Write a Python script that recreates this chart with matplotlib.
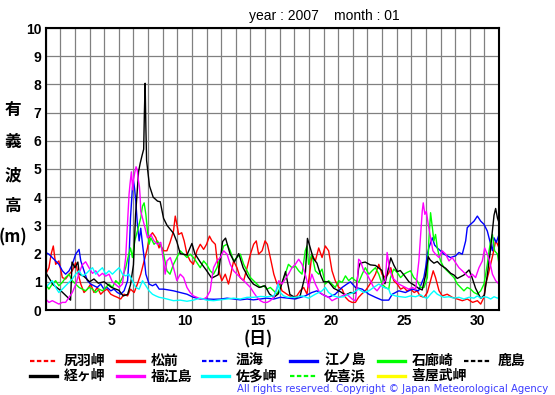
import matplotlib
matplotlib.use("Agg")
import matplotlib.pyplot as plt
from matplotlib.lines import Line2D

plt.rcParams['font.family'] = ['Liberation Sans', 'Noto Sans CJK JP', 'DejaVu Sans']

# --- data (day of month from start, wave height m) ---
kei_d = [0, 0.5, 1.0, 1.5, 1.7, 1.8, 2.0, 2.2, 2.3, 2.6, 3.0, 3.3, 3.6, 4.0, 4.5, 5.0, 5.3, 5.6, 5.8, 6.0,
         6.15, 6.35, 6.46, 6.6, 6.7, 6.75, 6.8, 6.85, 6.9, 7.0, 7.1, 7.35, 7.65, 7.83, 8.06, 8.3, 8.74, 8.97,
         9.2, 9.66, 10.0, 10.2, 10.57, 11.0, 11.35, 11.8, 12.1, 12.3, 12.6, 12.9, 13.2, 13.5, 13.85, 14.2,
         14.6, 15.0, 15.3, 15.6, 15.9, 16.05, 16.4, 16.7, 17.1, 17.4, 17.75, 17.9, 18.1, 18.3, 18.55, 18.8,
         19.0, 19.35, 19.7, 20.15, 20.5, 20.85, 21.2, 21.4, 21.5, 21.85, 22.2, 22.55, 23.0, 23.2, 23.6, 23.8,
         24.04, 24.25, 24.5, 24.84, 25.2, 25.5, 25.75, 25.98, 26.16, 26.3, 26.55, 26.78, 27.0, 27.35, 27.7,
         27.92, 28.15, 28.6, 28.95, 29.1, 29.4, 29.75, 30.0, 30.2, 30.4, 30.66, 30.77, 30.9, 31.0]
kei_v = [1.33, 0.9, 0.7, 0.45, 0.35, 1.7, 1.5, 1.7, 1.27, 1.2, 1.0, 1.1, 0.95, 1.0, 0.8, 0.7, 0.5, 0.55, 0.9, 1.6,
         3.4, 4.9, 5.2, 5.5, 5.7, 7.0, 8.04, 6.5, 5.3, 4.84, 4.4, 4.0, 3.86, 3.84, 3.25, 3.0, 2.72, 2.42,
         2.0, 1.95, 2.36, 2.0, 1.7, 1.4, 1.13, 1.25, 2.43, 2.55, 2.0, 1.7, 2.0, 1.5, 1.16, 0.92,
         0.8, 0.86, 0.57, 0.45, 0.57, 0.77, 1.36, 0.55, 0.43, 0.5, 1.24, 2.54, 2.19, 1.83, 1.66, 1.24,
         1.0, 1.0, 0.77, 0.65, 0.53, 0.62, 0.6, 1.48, 1.66, 1.7, 1.6, 1.58, 1.4, 0.93, 1.85, 1.6,
         1.36, 1.4, 1.24, 1.0, 0.88, 0.77, 0.71, 1.24, 1.89, 1.77, 1.66, 1.72, 1.6, 1.48, 1.3,
         1.24, 1.12, 1.24, 1.42, 1.24, 0.77, 0.41, 0.53, 1.24, 2.06, 3.36, 3.6, 3.25, 3.1]

mat_d = [0, 0.22, 0.38, 0.52, 0.68, 0.9, 1.14, 1.36, 1.6, 1.82, 2.05, 2.17, 2.4, 2.62, 2.85, 3.08, 3.3, 3.53,
         3.76, 4.0, 4.2, 4.45, 4.67, 4.9, 5.13, 5.36, 5.6, 5.8, 6.05, 6.27, 6.5, 6.73, 6.96, 7.07, 7.3, 7.53,
         7.75, 7.83, 8.06, 8.29, 8.5, 8.74, 8.86, 8.97, 9.09, 9.3, 9.47, 9.66, 9.88, 10.1, 10.34, 10.57, 10.8,
         11.0, 11.2, 11.37, 11.6, 11.7, 11.9, 12.05, 12.28, 12.5, 12.66, 12.85, 13.08, 13.3, 13.54, 13.77,
         14.0, 14.22, 14.4, 14.56, 14.8, 15.0, 15.16, 15.36, 15.6, 15.82, 16.0, 16.16, 16.5, 16.84, 17.17,
         17.4, 17.64, 17.87, 18.1, 18.2, 18.44, 18.67, 18.9, 19.12, 19.35, 19.58, 19.8, 20.04, 20.27, 20.5,
         20.72, 20.95, 21.18, 21.4, 21.6, 21.86, 22.1, 22.32, 22.55, 22.78, 23.0, 23.23, 23.45, 23.6, 23.8,
         24.04, 24.27, 24.5, 24.7, 24.95, 25.2, 25.4, 25.6, 25.87, 26.1, 26.32, 26.5, 26.66, 26.9, 27.12,
         27.46, 27.8, 28.15, 28.49, 28.83, 29.2, 29.52, 29.75, 29.97, 30.09, 30.27, 30.43, 30.59, 30.77,
         30.9, 31.0]
mat_v = [1.27, 1.5, 2.0, 2.27, 1.62, 1.74, 1.15, 1.1, 1.27, 1.39, 1.68, 1.39, 0.92, 0.62, 0.74, 0.92, 0.62, 0.8,
         0.56, 0.68, 0.74, 0.56, 0.5, 0.45, 0.39, 0.56, 0.5, 0.74, 0.62, 0.92, 1.27, 1.74, 2.2, 2.56, 2.74, 2.56,
         2.2, 2.33, 2.1, 2.1, 2.39, 2.8, 3.33, 3.04, 2.68, 2.74, 2.45, 1.98, 1.74, 1.62, 2.1, 2.33, 2.15,
         2.33, 2.62, 2.45, 2.33, 1.86, 1.27, 1.04, 1.27, 0.92, 1.27, 1.74, 1.5, 1.15, 1.04, 1.5,
         1.98, 2.33, 2.45, 1.98, 2.1, 2.45, 2.33, 1.86, 1.27, 0.92, 0.92, 0.68, 0.56, 0.45, 0.5,
         0.68, 0.8, 0.56, 1.5, 1.98, 1.74, 2.2, 1.86, 2.27, 2.1, 1.39, 1.04, 0.8, 0.74, 0.45,
         0.33, 0.27, 0.27, 0.45, 0.56, 0.68, 0.86, 1.04, 1.27, 1.62, 1.27, 1.15, 1.3, 1.5, 1.04,
         0.92, 0.74, 0.8, 0.68, 0.74, 0.62, 0.68, 0.5, 0.45, 0.62, 1.04, 1.39, 1.15, 0.68, 0.5,
         0.56, 0.45, 0.39, 0.33, 0.39, 0.27, 0.33, 0.21, 0.45, 0.92, 1.27, 1.62, 1.98, 2.45,
         2.33, 2.2]

eno_d = [0, 0.22, 0.45, 0.68, 0.9, 1.14, 1.36, 1.6, 1.82, 2.05, 2.28, 2.4, 2.62, 2.85, 3.08, 3.3, 3.53, 3.76,
         3.98, 4.2, 4.45, 4.67, 4.9, 5.13, 5.36, 5.6, 5.7, 5.8, 5.93, 6.0, 6.08, 6.16, 6.27, 6.39, 6.5, 6.62,
         6.73, 6.85, 7.07, 7.3, 7.53, 7.76, 8.06, 8.3, 8.74, 9.2, 9.66, 10.1, 10.57, 11.0, 11.5, 12.0, 12.4,
         12.85, 13.3, 13.77, 14.2, 14.68, 15.1, 15.6, 16.05, 16.4, 17.07, 17.75, 18.2, 18.55, 18.9, 19.35,
         19.8, 20.27, 20.6, 20.84, 21.18, 21.64, 22.1, 22.55, 23.0, 23.46, 23.7, 24.15, 24.6, 25.07, 25.5,
         25.86, 25.98, 26.1, 26.2, 26.44, 26.6, 26.78, 27.0, 27.24, 27.46, 27.69, 28.03, 28.26, 28.49,
         28.72, 28.83, 29.06, 29.29, 29.52, 29.75, 29.97, 30.2, 30.43, 30.55, 30.66, 30.82, 31.0]
eno_v = [2.04, 1.98, 1.86, 1.74, 1.62, 1.39, 1.27, 1.39, 1.62, 1.98, 2.15, 1.74, 1.39, 1.04, 0.92, 0.86, 0.8, 0.92,
         0.74, 0.8, 0.68, 0.74, 0.62, 0.56, 0.68, 1.04, 1.86, 3.27, 4.33, 4.6, 4.3, 3.86, 3.04, 2.45, 2.9, 2.33,
         1.86, 1.27, 0.92, 0.86, 0.92, 0.74, 0.74, 0.72, 0.68, 0.62, 0.56, 0.45, 0.39, 0.39, 0.38, 0.39, 0.42,
         0.39, 0.36, 0.39, 0.36, 0.39, 0.42, 0.39, 0.45, 0.43, 0.39, 0.5, 0.62, 0.68, 0.56, 0.45,
         0.56, 0.8, 0.92, 1.0, 0.8, 0.74, 0.56, 0.45, 0.35, 0.35, 0.56, 0.68, 0.62, 0.74, 0.68,
         1.15, 1.5, 1.98, 2.2, 2.56, 2.3, 2.2, 2.1, 1.98, 1.92, 1.86, 1.92, 2.04, 1.98,
         2.45, 2.92, 3.04, 3.15, 3.33, 3.15, 3.04, 2.8, 2.33, 2.1, 2.56, 2.4, 2.68]

iro_d = [0, 0.22, 0.45, 0.68, 0.9, 1.14, 1.36, 1.59, 1.82, 2.05, 2.28, 2.5, 2.73, 2.96, 3.2, 3.42, 3.65, 3.88,
         4.1, 4.33, 4.56, 4.79, 5.02, 5.25, 5.47, 5.63, 5.8, 5.93, 6.09, 6.27, 6.5, 6.62, 6.73, 6.85, 6.96,
         7.07, 7.19, 7.41, 7.64, 7.87, 8.06, 8.29, 8.5, 8.74, 8.97, 9.2, 9.43, 9.66, 9.88, 10.1, 10.34, 10.57,
         10.8, 11.0, 11.25, 11.48, 11.71, 11.94, 12.17, 12.4, 12.62, 12.85, 13.08, 13.31, 13.54, 13.77, 14.0,
         14.22, 14.45, 14.68, 14.9, 15.14, 15.36, 15.6, 15.82, 16.04, 16.38, 16.6, 16.84, 17.07, 17.3, 17.53,
         17.75, 17.87, 17.98, 18.2, 18.44, 18.67, 18.9, 19.12, 19.35, 19.58, 19.8, 20.04, 20.27, 20.5, 20.72,
         20.95, 21.18, 21.4, 21.64, 21.86, 22.1, 22.32, 22.55, 22.78, 23.0, 23.23, 23.46, 23.58, 23.8, 24.04,
         24.27, 24.5, 24.7, 24.95, 25.17, 25.4, 25.64, 25.87, 26.1, 26.2, 26.32, 26.44, 26.55, 26.66, 26.78,
         27.0, 27.24, 27.46, 27.69, 27.92, 28.15, 28.37, 28.6, 28.83, 29.06, 29.29, 29.52, 29.75, 29.97,
         30.09, 30.2, 30.32, 30.43, 30.55, 30.7, 30.9, 31.0]
iro_v = [0.92, 0.74, 0.92, 1.04, 0.86, 0.98, 1.15, 1.27, 1.04, 0.92, 0.8, 0.74, 0.68, 0.8, 0.74, 0.62, 0.74, 0.68,
         0.8, 0.92, 0.8, 1.04, 0.92, 1.15, 1.5, 1.86, 2.2, 1.86, 2.45, 2.8, 3.27, 3.68, 3.8, 3.39, 2.8,
         2.33, 2.56, 2.33, 2.45, 2.27, 1.98, 1.39, 1.27, 1.62, 1.86, 2.1, 1.98, 1.86, 1.98, 1.86, 1.68, 1.5,
         1.74, 1.62, 1.39, 1.27, 1.5, 1.86, 2.27, 2.33, 2.1, 1.74, 1.86, 1.98, 1.62, 1.39, 1.15,
         1.04, 0.92, 0.8, 0.86, 0.74, 0.8, 0.68, 0.56, 0.8, 1.27, 1.62, 1.5, 1.56, 1.39, 1.27,
         2.1, 2.27, 1.62, 1.98, 1.39, 1.27, 1.45, 0.92, 1.04, 0.92, 0.8, 1.04, 0.98, 1.21, 1.04,
         1.15, 1.04, 0.98, 1.27, 1.5, 1.27, 1.39, 1.5, 1.27, 0.92, 0.8, 0.74, 1.15, 1.45, 1.33,
         1.15, 1.27, 1.33, 1.39, 1.15, 1.04, 0.8, 0.8, 1.15, 2.45, 3.45, 2.92, 2.45, 2.68, 2.2,
         1.74, 1.5, 1.39, 1.27, 1.15, 0.92, 0.8, 0.68, 0.8, 0.74, 0.62, 0.56, 0.68, 0.92,
         1.27, 1.62, 2.1, 2.45, 2.68, 2.1, 1.98, 1.62]

fuk_d = [0, 0.22, 0.45, 0.68, 0.9, 1.14, 1.36, 1.6, 1.82, 2.05, 2.28, 2.5, 2.73, 2.96, 3.2, 3.42, 3.65, 3.88,
         4.1, 4.33, 4.56, 4.79, 5.02, 5.25, 5.47, 5.59, 5.7, 5.77, 5.86, 5.95, 6.0, 6.1, 6.18, 6.26, 6.34,
         6.41, 6.46, 6.5, 6.73, 6.96, 7.19, 7.41, 7.64, 7.87, 8.06, 8.17, 8.29, 8.52, 8.74, 8.97, 9.2, 9.43,
         9.66, 9.88, 10.1, 10.34, 10.57, 10.8, 11.0, 11.25, 11.37, 11.48, 11.71, 11.94, 12.17, 12.4, 12.62,
         12.85, 13.08, 13.31, 13.54, 13.77, 14.0, 14.22, 14.45, 14.68, 14.9, 15.14, 15.36, 15.6, 15.82, 15.94,
         16.16, 16.38, 16.6, 16.84, 17.07, 17.3, 17.53, 17.75, 17.98, 18.2, 18.44, 18.67, 18.9, 19.12, 19.35,
         19.58, 19.8, 20.04, 20.27, 20.5, 20.72, 20.95, 21.18, 21.3, 21.4, 21.52, 21.75, 21.97, 22.2, 22.43,
         22.66, 23.0, 23.23, 23.35, 23.5, 23.7, 23.92, 24.15, 24.37, 24.6, 24.83, 25.07, 25.3, 25.52, 25.64,
         25.75, 25.82, 25.93, 26.03, 26.16, 26.32, 26.48, 26.66, 26.9, 27.12, 27.35, 27.58, 27.8, 28.03,
         28.26, 28.49, 28.72, 28.95, 29.17, 29.4, 29.63, 29.86, 30.02, 30.2, 30.36, 30.55, 30.77, 31.0]
fuk_v = [0.39, 0.27, 0.33, 0.27, 0.21, 0.27, 0.27, 0.45, 0.62, 0.9, 1.3, 1.6, 1.71, 1.5, 1.3, 1.39, 1.2, 1.3,
         1.2, 1.27, 1.0, 0.9, 0.8, 0.92, 1.86, 3.04, 4.1, 4.49, 4.9, 4.26, 4.6, 4.9, 5.08, 4.96, 4.6,
         4.37, 4.0, 3.5, 3.04, 2.56, 2.68, 2.45, 2.33, 2.4, 1.74, 1.27, 1.74, 1.86, 1.5, 1.04, 1.27, 1.15,
         0.8, 0.62, 0.5, 0.45, 0.39, 0.39, 0.45, 0.68, 1.15, 1.5, 1.74, 1.86, 2.1, 1.98, 1.62,
         1.39, 1.27, 1.15, 1.04, 0.92, 0.8, 0.62, 0.45, 0.33, 0.27, 0.27, 0.33, 0.45, 0.8, 1.04,
         0.92, 1.1, 1.27, 1.5, 1.62, 1.8, 1.62, 1.27, 0.8, 1.27, 0.92, 0.68, 0.56, 0.5, 0.45,
         0.33, 0.39, 0.45, 0.5, 0.56, 0.5, 0.39, 0.33, 0.9, 1.8, 1.74, 1.39, 1.27, 1.04, 0.8,
         0.68, 0.92, 1.04, 2.04, 1.5, 1.15, 1.04, 0.92, 0.86, 0.8, 0.74, 0.8, 0.74, 1.74, 2.68,
         3.5, 3.8, 3.39, 3.5, 3.04, 2.56, 2.1, 1.98, 1.86, 2.1, 1.98, 1.74, 1.86, 1.68,
         1.5, 1.39, 1.27, 1.15, 1.27, 1.15, 1.5, 1.74, 2.2, 1.98, 1.74, 1.27, 1.04, 0.92]

sat_d = [0, 0.22, 0.45, 0.68, 0.9, 1.14, 1.36, 1.59, 1.82, 2.05, 2.28, 2.5, 2.73, 2.96, 3.2, 3.42, 3.65, 3.88,
         4.1, 4.33, 4.56, 4.79, 5.02, 5.25, 5.47, 5.7, 5.93, 6.16, 6.39, 6.62, 6.85, 7.07, 7.3, 7.53, 7.76,
         8.06, 8.29, 8.74, 9.2, 9.66, 10.1, 10.57, 11.0, 11.48, 11.94, 12.4, 12.85, 13.31, 13.77, 14.22,
         14.68, 15.14, 15.6, 15.8, 15.9, 16.04, 16.27, 16.6, 17.07, 17.53, 17.98, 18.44, 18.9, 19.12, 19.35,
         19.7, 20.04, 20.4, 20.72, 21.06, 21.4, 21.75, 22.1, 22.43, 22.78, 23.12, 23.46, 23.58, 23.92, 24.27,
         24.6, 24.95, 25.3, 25.64, 25.87, 26.1, 26.32, 26.55, 26.78, 27.0, 27.24, 27.58, 27.92, 28.26, 28.6,
         28.95, 29.29, 29.52, 29.75, 29.97, 30.2, 30.43, 30.66, 30.9, 31.0]
sat_v = [0.8, 0.92, 1.04, 0.8, 0.62, 0.74, 0.86, 0.98, 1.1, 1.27, 1.39, 1.21, 1.27, 1.39, 1.5, 1.27, 1.39, 1.5,
         1.27, 1.39, 1.27, 1.39, 1.5, 1.27, 1.21, 1.27, 1.04, 0.8, 0.74, 1.04, 0.86, 0.68, 0.56, 0.5, 0.45,
         0.42, 0.39, 0.33, 0.35, 0.31, 0.35, 0.42, 0.35, 0.33, 0.36, 0.39, 0.42, 0.39, 0.45, 0.45,
         0.48, 0.47, 0.5, 0.7, 0.92, 0.62, 0.5, 0.45, 0.45, 0.5, 0.42, 0.56, 0.68, 0.8, 0.62,
         0.5, 0.45, 0.47, 0.56, 0.62, 0.74, 0.62, 0.68, 0.8, 0.92, 0.8, 0.74, 0.56, 0.5, 0.47,
         0.45, 0.5, 0.47, 0.54, 0.45, 0.42, 0.56, 0.68, 0.56, 0.5, 0.45, 0.47, 0.42, 0.45, 0.39,
         0.45, 0.42, 0.5, 0.42, 0.47, 0.45, 0.39, 0.47, 0.42, 0.45]

# legend: every station, in the order shown (row 1 then row 2)
names = ['尻羽岬', '松前', '温海', '江ノ島', '石廊崎', '鹿島',
         '経ヶ岬', '福江島', '佐多岬', '佐喜浜', '喜屋武岬']
colors = ['#ff0000', '#ff0000', '#0000ff', '#0000ff', '#00ff00', '#000000',
          '#000000', '#ff00ff', '#00ffff', '#00ff00', '#ffff00']
dashed = [True, False, True, False, False, True,
          False, False, False, True, False]

series = [(mat_d, mat_v, '#ff0000'), (eno_d, eno_v, '#0000ff'), (iro_d, iro_v, '#00ff00'),
          (kei_d, kei_v, '#000000'), (fuk_d, fuk_v, '#ff00ff'), (sat_d, sat_v, '#00ffff')]

fig = plt.figure(figsize=(5.55, 3.95), dpi=100)
ax = fig.add_axes([45.7 / 555, 1 - 310 / 395, 453.3 / 555, 282 / 395])

for d, v, c in series:
    ax.plot(d, v, color=c, lw=1.0)

ax.set_xlim(0, 31)
ax.set_ylim(0, 10)
ax.set_xticks(range(0, 32))
ax.set_xticklabels([])
ax.set_xticks([4.5, 9.5, 14.5, 19.5, 24.5, 29.5], minor=True)
ax.set_xticklabels(['5', '10', '15', '20', '25', '30'], minor=True,
                   fontsize=10, fontweight='bold')
ax.set_yticks(range(0, 11))
ax.set_yticklabels([str(i) for i in range(11)], fontsize=10, fontweight='bold')
ax.tick_params(axis='both', which='both', length=0, pad=3)
ax.grid(True, which='major', color='#808080', lw=0.9)
for s in ax.spines.values():
    s.set_linewidth(1.5)

# titles and axis labels
fig.text(249 / 555, 1 - 16 / 395, 'year : 2007', fontsize=10, va='center', ha='left')
fig.text(334 / 555, 1 - 16 / 395, 'month : 01', fontsize=10, va='center', ha='left')
for ch, yp in zip(['有', '義', '波', '高', '(m)'], [110, 142, 175, 206, 237]):
    fig.text(13 / 555, 1 - yp / 395, ch, fontsize=12, fontweight='bold',
             ha='center', va='center', family=['Noto Sans CJK JP', 'DejaVu Sans'])
fig.text(258 / 555, 1 - 339 / 395, '(日)', fontsize=12, fontweight='bold',
         ha='center', va='center', family=['Noto Sans CJK JP', 'DejaVu Sans'])

# legend, laid out in a fixed grid like the original
col_x = [30, 116.5, 201.5, 290, 378, 464]
row_y = [361, 376]
for i, (nm, c, ds) in enumerate(zip(names, colors, dashed)):
    r, k = divmod(i, 6)
    x0 = col_x[k]
    y0 = 1 - row_y[r] / 395
    if ds:
        ln = Line2D([x0 / 555, (x0 + 27) / 555], [y0, y0], color=c, lw=1.6,
                    dashes=(2, 1.1), transform=fig.transFigure)
    else:
        ln = Line2D([x0 / 555, (x0 + 27) / 555], [y0, y0], color=c, lw=2.4,
                    transform=fig.transFigure)
    fig.add_artist(ln)
    fig.text((x0 + 34) / 555, y0, nm, fontsize=10, fontweight='bold', va='center', ha='left',
             family=['Noto Sans CJK JP', 'DejaVu Sans'])

fig.text(548 / 555, 1 - 389 / 395,
         'All rights reserved. Copyright \u00a9 Japan Meteorological Agency',
         fontsize=7.3, color='#3c3cff', ha='right', va='center', family='DejaVu Sans')

fig.savefig('out.png', dpi=100)
